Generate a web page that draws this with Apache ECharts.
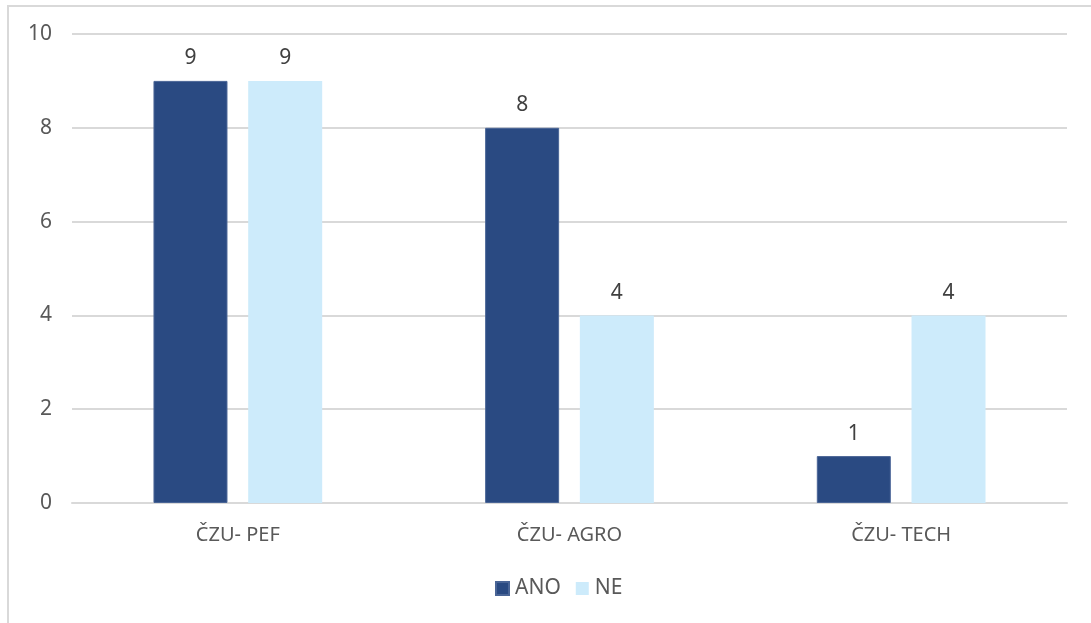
<!DOCTYPE html>
<html>
<head>
<meta charset="utf-8">
<script src="https://cdn.jsdelivr.net/npm/echarts@6/dist/echarts.min.js"></script>
<style>
html,body{margin:0;padding:0;background:#fff;overflow:hidden;}
#frame{position:absolute;left:7px;top:5px;width:1200px;height:700px;border-left:2px solid #d9d9d9;border-top:2px solid #d9d9d9;}
#chart{position:absolute;left:0;top:0;width:1091px;height:623px;}
</style>
</head>
<body>
<div id="frame"></div>
<div id="chart"></div>
<script>
const categories = ['ČZU- PEF', 'ČZU- AGRO', 'ČZU- TECH'];
const seriesNames = ['ANO', 'NE'];
const anoValues = [9, 8, 1];
const neValues = [9, 4, 4];
const yTicks = [0, 2, 4, 6, 8, 10];

const font = 'Noto Sans, Open Sans, sans-serif';
const chart = echarts.init(document.getElementById('chart'), null, {renderer: 'canvas'});
const labelStyle = {show: true, position: 'top', distance: 12, color: '#404040', fontSize: 21, fontFamily: font};
chart.setOption({
  animation: false,
  grid: {left: 72, right: 24, top: 34, bottom: 120, containLabel: false},
  legend: {
    data: seriesNames, bottom: 19, left: 490, itemWidth: 13, itemHeight: 13, itemGap: 15,
    icon: 'rect',
    textStyle: {color: '#595959', fontSize: 21, fontFamily: font, padding: [0, 0, 0, 1]}
  },
  xAxis: {
    type: 'category', data: categories,
    axisLine: {show: true, lineStyle: {color: '#d9d9d9', width: 2}},
    axisTick: {show: false},
    axisLabel: {color: '#595959', fontSize: 20, fontFamily: font, margin: 22}
  },
  yAxis: {
    type: 'value', min: yTicks[0], max: yTicks[yTicks.length - 1], interval: 2,
    axisLine: {show: false}, axisTick: {show: false},
    axisLabel: {color: '#595959', fontSize: 21, fontFamily: font, margin: 20},
    splitLine: {lineStyle: {color: '#d9d9d9', width: 2}}
  },
  series: [
    {name: seriesNames[0], type: 'bar', data: anoValues, barWidth: 74, barGap: '28%',
     itemStyle: {color: '#2a4a82', borderColor: '#4a6596', borderWidth: 1}, label: labelStyle},
    {name: seriesNames[1], type: 'bar', data: neValues, barWidth: 74, barGap: '28%',
     itemStyle: {color: '#cdebfb'}, label: labelStyle}
  ]
});
</script>
</body>
</html>
